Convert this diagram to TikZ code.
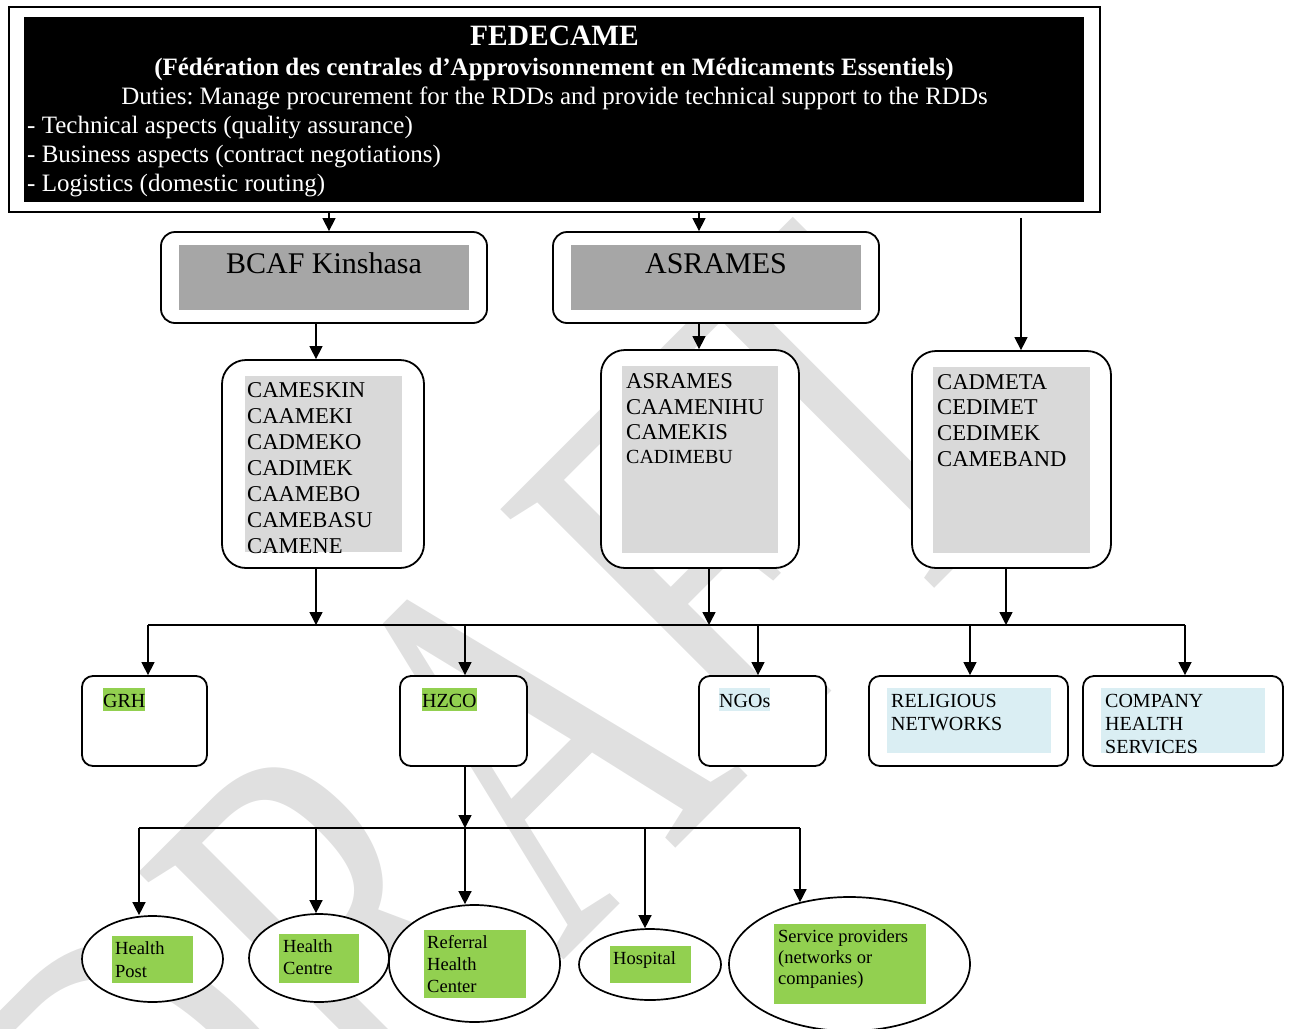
\documentclass[tikz,border=0pt]{standalone}
\usepackage{fontspec}
\setmainfont{Liberation Serif}
\usetikzlibrary{shapes.geometric,arrows.meta}
\definecolor{hlgreen}{HTML}{92D050}
\definecolor{hlblue}{HTML}{DAEEF3}
\definecolor{boxgray}{HTML}{A6A6A6}
\definecolor{listgray}{HTML}{D9D9D9}
\definecolor{wmgray}{HTML}{E0E0E0}
\frenchspacing
\begin{document}
\begin{tikzpicture}[x=1pt,y=-1pt,
  rbig/.style={draw, line width=1.8pt, fill=white, rounded corners=14pt, inner sep=0},
  rlist/.style={draw, line width=1.8pt, fill=white, rounded corners=24pt, inner sep=0},
  rsmall/.style={draw, line width=1.8pt, fill=white, rounded corners=11pt, inner sep=0},
  ell/.style={draw, ellipse, line width=1.7pt, fill=white, inner sep=0},
  gbox/.style={fill=boxgray, inner sep=0},
  lbox/.style={fill=listgray, inner sep=0},
  grect/.style={fill=hlgreen, inner sep=0},
  brect/.style={fill=hlblue, inner sep=0},
  wtxt/.style={text=white, inner sep=0},
  ltxt/.style={font=\fontsize{22.6}{26}\selectfont, align=left, inner sep=0, anchor=north west},
  stxt/.style={font=\fontsize{20}{23}\selectfont, align=left, inner sep=0, anchor=north west},
  etxt/.style={font=\fontsize{18.5}{22}\selectfont, align=left, inner sep=0, anchor=north west},
  hl/.style={font=\fontsize{20}{23}\selectfont, inner sep=0, text height=19pt, text depth=4pt, anchor=base west},
  arr/.style={line width=1.4pt, -{Triangle[length=13pt,width=13pt]}},
  bus/.style={line width=1.5pt}]
\clip (0,0) rectangle (1292,1028);
% watermark
\node[rotate=45, inner sep=0, font=\fontsize{410}{410}\selectfont, text=wmgray] (wm) at (498,768) {\scalebox{0.9}[1.35]{DRAFT}};
% FEDECAME
\node[draw, line width=1.6pt, fill=white, minimum width=1091pt, minimum height=205pt, inner sep=0] (fed) at (554.5,109.5) {};
\node[fill=black, minimum width=1060pt, minimum height=185pt, inner sep=0] (fedin) at (554,109.5) {};
\node[wtxt, font=\bfseries\fontsize{29.5}{34}\selectfont, anchor=base] (fedname) at (554.5,45) {FEDECAME};
\node[wtxt, font=\bfseries\fontsize{25}{29}\selectfont, anchor=base] (fedfull) at (554,75) {(Fédération des centrales d’Approvisonnement en Médicaments Essentiels)};
\node[wtxt, font=\fontsize{25}{29}\selectfont, anchor=base] (fedduty) at (554.5,104) {Duties: Manage procurement for the RDDs and provide technical support to the RDDs};
\node[wtxt, font=\fontsize{25}{29}\selectfont, anchor=base west] (fedl1) at (27,133) {- Technical aspects (quality assurance)};
\node[wtxt, font=\fontsize{25}{29}\selectfont, anchor=base west] (fedl2) at (27,162) {- Business aspects (contract negotiations)};
\node[wtxt, font=\fontsize{25}{29}\selectfont, anchor=base west] (fedl3) at (27,191) {- Logistics (domestic routing)};
% second level
\node[rbig, minimum width=326pt, minimum height=91pt] (bcaf) at (324,277.5) {};
\node[gbox, minimum width=290pt, minimum height=65pt] (bcafg) at (324,277.5) {};
\node[font=\fontsize{30}{34}\selectfont, anchor=base, inner sep=0] (bcaft) at (324,273) {BCAF Kinshasa};
\node[rbig, minimum width=326pt, minimum height=91pt] (asr) at (716,277.5) {};
\node[gbox, minimum width=290pt, minimum height=65pt] (asrg) at (716,277.5) {};
\node[font=\fontsize{30}{34}\selectfont, anchor=base, inner sep=0] (asrt) at (716,273) {ASRAMES};
% lists
\node[rlist, minimum width=202pt, minimum height=208pt] (camk) at (323,464) {};
\node[lbox, minimum width=157pt, minimum height=176pt] (camkg) at (323.5,464) {};
\node[ltxt] (camkt) at (247,382) {CAMESKIN\\CAAMEKI\\CADMEKO\\CADIMEK\\CAAMEBO\\CAMEBASU\\CAMENE};
\node[rlist, minimum width=198pt, minimum height=218pt] (asrl) at (700,459) {};
\node[lbox, minimum width=156pt, minimum height=187pt] (asrlg) at (700,459.5) {};
\node[ltxt, font=\fontsize{22.6}{25.5}\selectfont] (asrlt) at (626,373.5) {ASRAMES\\CAAMENIHU\\CAMEKIS};
\node[font=\fontsize{20}{23}\selectfont, anchor=base west, inner sep=0] (asrlt2) at (626,463.5) {CADIMEBU};
\node[rlist, minimum width=199pt, minimum height=217pt] (cadl) at (1011.5,459.5) {};
\node[lbox, minimum width=157pt, minimum height=186pt] (cadlg) at (1011.5,460) {};
\node[ltxt, font=\fontsize{22.6}{25.7}\selectfont] (cadlt) at (937,374) {CADMETA\\CEDIMET\\CEDIMEK\\CAMEBAND};
% third level
\node[rsmall, minimum width=125pt, minimum height=90pt] (grh) at (144.5,721) {};
\node[hl, fill=hlgreen] (grht) at (103,707) {GRH};
\node[rsmall, minimum width=127pt, minimum height=90pt] (hzco) at (463.5,721) {};
\node[hl, fill=hlgreen] (hzcot) at (422,707) {HZCO};
\node[rsmall, minimum width=127pt, minimum height=90pt] (ngo) at (762.5,721) {};
\node[hl, fill=hlblue] (ngot) at (719,707) {NGOs};
\node[rsmall, minimum width=199pt, minimum height=90pt] (rel) at (968.5,721) {};
\node[brect, minimum width=164pt, minimum height=65pt] (relb) at (969,720.5) {};
\node[stxt] (relt) at (891,694) {RELIGIOUS\\NETWORKS};
\node[rsmall, minimum width=200pt, minimum height=90pt] (comp) at (1183,721) {};
\node[brect, minimum width=164pt, minimum height=65pt] (compb) at (1183,720.5) {};
\node[stxt] (compt) at (1105,694) {COMPANY\\HEALTH\\SERVICES};
% fourth level
\node[ell, minimum width=141pt, minimum height=86pt] (hp) at (152.5,959) {};
\node[grect, minimum width=81pt, minimum height=47pt] (hpg) at (152.5,959.5) {};
\node[etxt, font=\fontsize{18.5}{23}\selectfont] (hpt) at (115,941.2) {Health\\Post};
\node[ell, minimum width=140pt, minimum height=88pt] (hc) at (319,958) {};
\node[grect, minimum width=80pt, minimum height=49pt] (hcg) at (319,958.5) {};
\node[etxt] (hct) at (283,939.2) {Health\\Centre};
\node[ell, minimum width=171pt, minimum height=117pt] (ref) at (474.5,963.5) {};
\node[grect, minimum width=102pt, minimum height=68pt] (refg) at (475,964) {};
\node[etxt] (reft) at (427,935.2) {Referral\\Health\\Center};
\node[ell, minimum width=142pt, minimum height=71pt] (hos) at (650,964.5) {};
\node[grect, minimum width=81pt, minimum height=37pt] (hosg) at (650.5,964.5) {};
\node[font=\fontsize{18.5}{22}\selectfont, anchor=base west, inner sep=0] (host) at (613,964) {Hospital};
\node[ell, minimum width=241pt, minimum height=134pt] (svc) at (849.5,964) {};
\node[grect, minimum width=152pt, minimum height=80pt] (svcg) at (850,964) {};
\node[etxt, font=\fontsize{18.5}{21}\selectfont] (svct) at (778,929.2) {Service providers\\(networks or\\companies)};
% connectors top
\draw[arr] ([xshift=5pt]bcaf.north |- fed.south) -- ([xshift=5pt]bcaf.north);
\draw[arr] ([xshift=-17pt]asr.north |- fed.south) -- ([xshift=-17pt]asr.north);
\draw[arr] ([xshift=9.5pt,yshift=-5pt]cadl.north |- fed.south) -- ([xshift=9.5pt]cadl.north);
\draw[arr] ([xshift=-8pt]bcaf.south) -- ([xshift=-8pt]bcaf.south |- camk.north);
\draw[arr] ([xshift=-17pt]asr.south) -- ([xshift=-17pt]asr.south |- asrl.north);
% bus 1
\coordinate (b1l) at (148,625);
\coordinate (b1r) at (1185,625);
\draw[bus] (b1l) -- (b1r);
\draw[arr] ([xshift=-7pt]camk.south) -- ([xshift=-7pt]camk.south |- b1l);
\draw[arr] ([xshift=9pt]asrl.south) -- ([xshift=9pt]asrl.south |- b1l);
\draw[arr] ([xshift=-5.5pt]cadl.south) -- ([xshift=-5.5pt]cadl.south |- b1l);
\draw[arr] (b1l) -- (b1l |- grh.north);
\draw[arr] ([xshift=1.5pt]hzco.north |- b1l) -- ([xshift=1.5pt]hzco.north);
\draw[arr] ([xshift=-4.5pt]ngo.north |- b1l) -- ([xshift=-4.5pt]ngo.north);
\draw[arr] ([xshift=1.5pt]rel.north |- b1l) -- ([xshift=1.5pt]rel.north);
\draw[arr] (b1r) -- (b1r |- comp.north);
% bus 2
\coordinate (b2l) at (139,828);
\coordinate (b2r) at (800,828);
\draw[bus] (b2l) -- (b2r);
\draw[arr] ([xshift=1.5pt]hzco.south) -- ([xshift=1.5pt]hzco.south |- b2l);
\draw[arr] (b2l) -- (b2l |- hp.north);
\draw[arr] ([xshift=-3pt]hc.north |- b2l) -- ([xshift=-3pt]hc.north);
\draw[arr] ([xshift=-9.5pt]ref.north |- b2l) -- ([xshift=-9.5pt]ref.north);
\draw[arr] ([xshift=-5pt]hos.north |- b2l) -- ([xshift=-5pt]hos.north);
\draw[arr] (b2r) -- ([yshift=-6pt]svc.north -| b2r);
\end{tikzpicture}
\end{document}
